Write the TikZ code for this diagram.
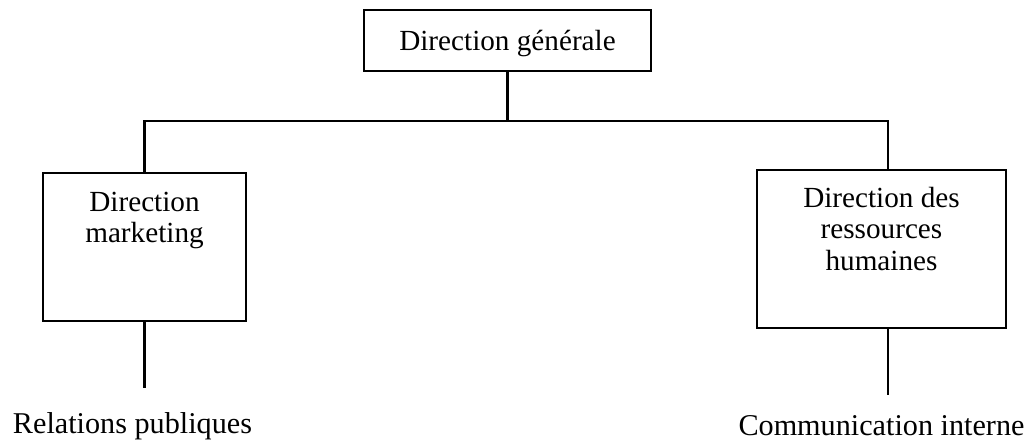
\documentclass[tikz,border=0pt]{standalone}
\usepackage{fontspec}
\setmainfont{Liberation Serif}
\usetikzlibrary{positioning}

\begin{document}
\begin{tikzpicture}[x=0.5pt,y=-0.5pt,
    font=\fontsize{14.6}{15.6}\selectfont,
    unit/.style={draw, line width=1.4pt, inner sep=0pt},
    txt/.style={align=center, inner sep=0pt},
    lbl/.style={inner sep=0pt, font=\fontsize{15.1}{18}\selectfont}]
    \useasboundingbox (0,0) rectangle (1033,439);
    % Units
    \node[unit, minimum width=143.5pt, minimum height=30.5pt, text depth=0pt] (dg) at (507.5,40.5) {Direction générale}; % Top
    \node[unit, minimum width=101.5pt, minimum height=74pt] (mkt) at (144.5,247) {};
    \node[txt, anchor=north] (mkttxt) at (144.5,192) {Direction\\marketing};
    \node[unit, minimum width=124.5pt, minimum height=79pt] (rh) at (881.5,249) {};
    \node[txt, anchor=north] (rhtxt) at (881.5,187) {Direction des\\ressources\\humaines};
    % Labels below
    \node[lbl, anchor=base] (relpub) at (132.5,433) {Relations publiques};
    \node[lbl, anchor=base] (comint) at (881.5,435) {Communication interne};
    % Connectors
    \coordinate (bus) at (0,121);
    \coordinate (mktend) at (144.5,388);
    \coordinate (rhend) at (888,395);
    \draw[line width=1.2pt] (dg.south) -- (dg.south |- bus);
    \draw[line width=1.2pt] (mkt.north) -- (mkt.north |- bus) -- ([xshift=3.25pt]rh.north |- bus) -- ([xshift=3.25pt]rh.north);
    \draw[line width=1.2pt] (mkt.south) -- (mktend);
    \draw[line width=1.2pt] ([xshift=3.25pt]rh.south) -- (rhend);
\end{tikzpicture}
\end{document}
